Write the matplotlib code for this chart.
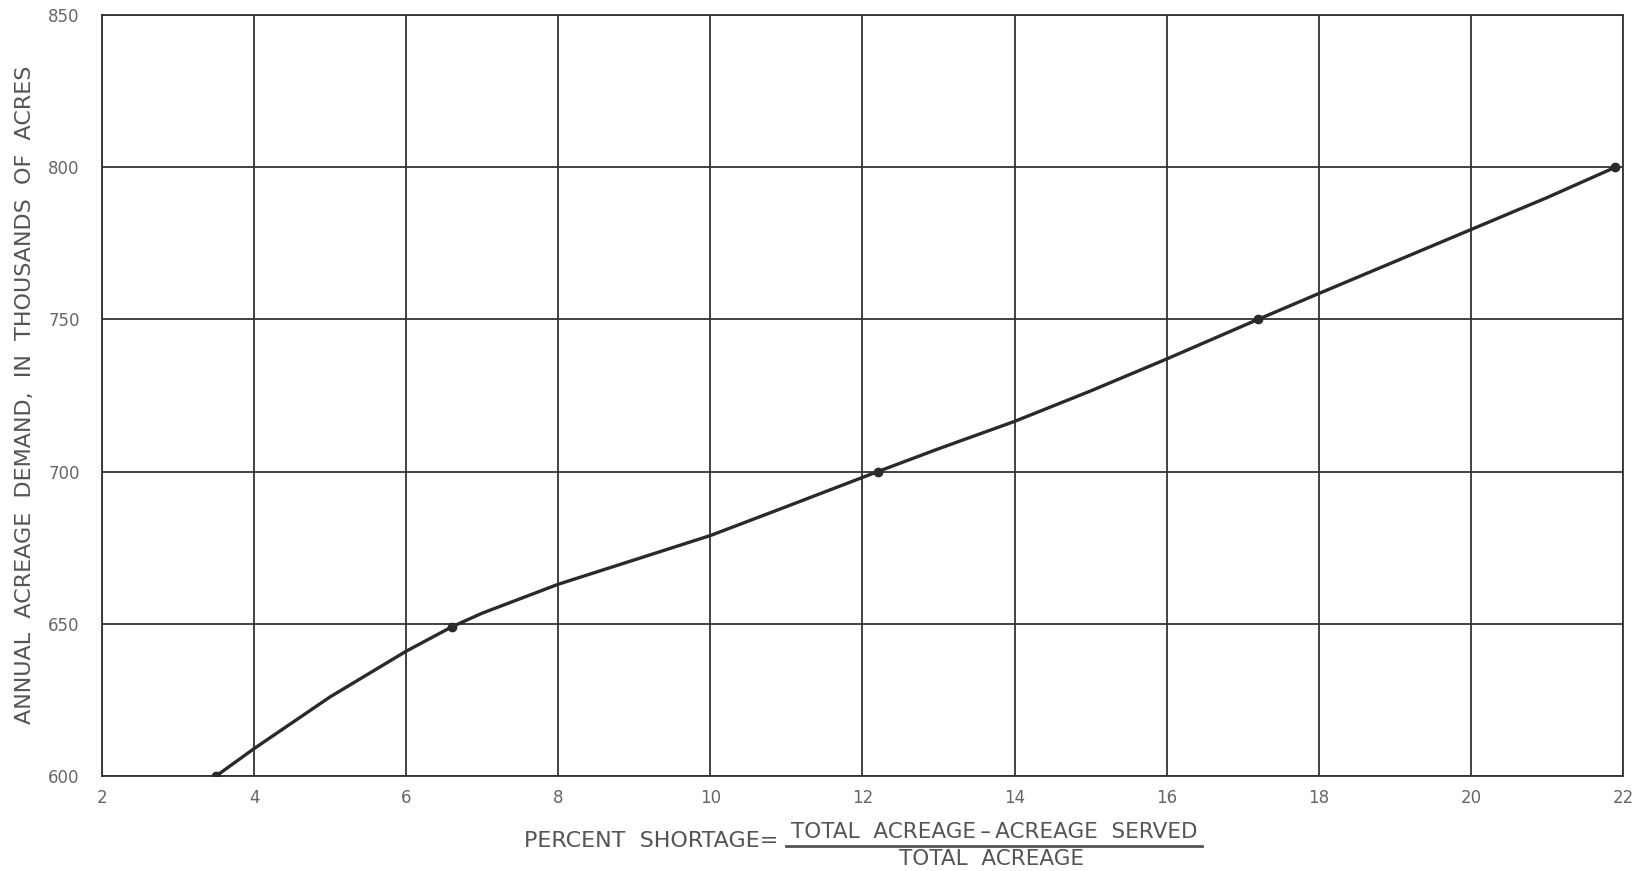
import matplotlib
matplotlib.use('Agg')
from matplotlib import pyplot as plt

# plotted points (the dots on the curve)
pts_x = [3.5, 6.6, 12.2, 17.2, 21.9]
pts_y = [600, 649, 700, 750, 800]

# curve
curve_x = [3.5, 4, 5, 6, 6.6, 7, 8, 9, 10, 11, 12.2, 13, 14, 15, 16, 17.2, 18, 19, 20, 21, 21.9]
curve_y = [600, 609, 626, 641, 649, 653.5, 663, 671, 679, 688.5, 700, 707.5, 716.5, 726.5, 737, 750, 758.5, 769, 779.5, 790, 800]

x_ticks = [2, 4, 6, 8, 10, 12, 14, 16, 18, 20, 22]
y_ticks = [600, 650, 700, 750, 800, 850]

ink = '#2a2a2a'
txt = '#555555'

fig = plt.figure(figsize=(16.49, 8.71), dpi=100)
ax = fig.add_axes([102 / 1649, 1 - 776 / 871, (1623 - 102) / 1649, (776 - 15) / 871])

ax.plot(curve_x, curve_y, color=ink, lw=2.4, solid_capstyle='round', solid_joinstyle='round', zorder=3)
ax.plot(pts_x, pts_y, 'o', color=ink, ms=6, zorder=4)

ax.set_xlim(2, 22)
ax.set_ylim(600, 850)
ax.set_xticks(x_ticks)
ax.set_yticks(y_ticks)
ax.set_xticklabels([str(t) for t in x_ticks])
ax.set_yticklabels([str(t) for t in y_ticks])
ax.grid(True, color='#333333', lw=1.3)
ax.set_axisbelow(True)
for s in ax.spines.values():
    s.set_color('#333333')
    s.set_linewidth(1.3)
ax.tick_params(length=0, labelsize=12, labelcolor='#666666', pad=9)
ax.tick_params(axis='y', pad=16)

fig.text(25 / 1649, 1 - 395 / 871, 'ANNUAL  ACREAGE  DEMAND,  IN  THOUSANDS  OF  ACRES',
         rotation=90, ha='center', va='center', fontsize=16, color=txt)

# x label with the fraction
fig.text(778 / 1649, 1 - 841 / 871, 'PERCENT  SHORTAGE=', ha='right', va='center',
         fontsize=16, color=txt)
fig.text(994 / 1649, 1 - 832 / 871, 'TOTAL  ACREAGE\u2009\u2013\u2009ACREAGE  SERVED', ha='center', va='center',
         fontsize=15.5, color=txt)
fig.add_artist(plt.Line2D([786 / 1649, 1202 / 1649], [1 - 846 / 871, 1 - 846 / 871],
                          color=txt, lw=2))
fig.text(992 / 1649, 1 - 859 / 871, 'TOTAL  ACREAGE', ha='center', va='center',
         fontsize=15.5, color=txt)

fig.savefig('out.png', dpi=100, facecolor='white')
